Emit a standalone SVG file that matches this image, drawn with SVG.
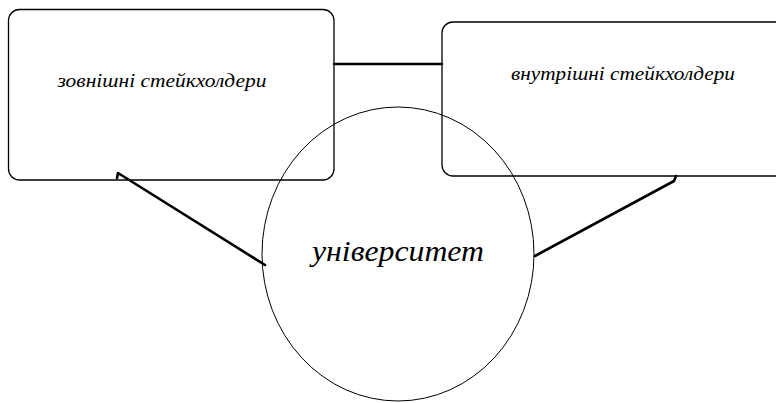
<svg xmlns="http://www.w3.org/2000/svg" width="776" height="403" viewBox="0 0 776 403">
<style>
.box{fill:none;stroke:#000;stroke-width:1.3}
.circ{fill:none;stroke:#000;stroke-width:1}
.conn{fill:none;stroke:#000;stroke-width:2.6;stroke-linecap:round;stroke-linejoin:round}
.t{font-family:"Liberation Serif","Times New Roman",serif;font-style:italic;fill:#000}
</style>
<rect width="776" height="403" fill="#fff"/>
<g id="external">
<rect class="box" x="8.5" y="9.5" width="325.5" height="170.5" rx="11"/>
<text class="t" x="162" y="87" font-size="19" text-anchor="middle" textLength="209" lengthAdjust="spacingAndGlyphs">зовнішні стейкхолдери</text>
</g>
<g id="internal">
<rect class="box" x="442" y="22" width="345" height="154" rx="11"/>
<text class="t" x="623" y="80" font-size="19" text-anchor="middle" textLength="224" lengthAdjust="spacingAndGlyphs">внутрішні стейкхолдери</text>
</g>
<g id="university">
<ellipse class="circ" cx="398" cy="254" rx="136" ry="147"/>
<text class="t" x="398" y="261" font-size="29" text-anchor="middle" textLength="172" lengthAdjust="spacingAndGlyphs">університет</text>
</g>
<g id="connectors">
<line class="conn" x1="334" y1="64" x2="442" y2="64"/>
<polyline class="conn" points="117,178 118,173 265,265"/>
<polyline class="conn" points="676,176 674,181 535,256"/>
</g>
</svg>
